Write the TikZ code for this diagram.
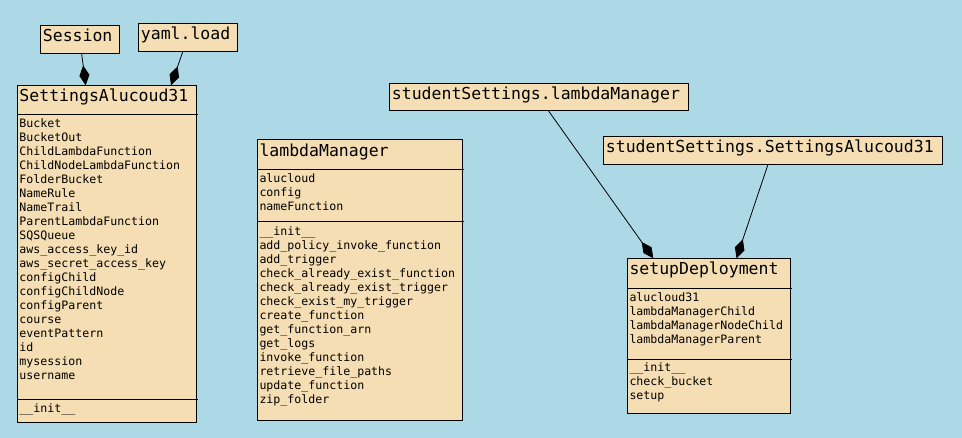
\documentclass[tikz,border=0pt]{standalone}
\usepackage{fontspec}
\setmonofont{DejaVu Sans Mono}
\usetikzlibrary{arrows.meta}
\definecolor{bg}{HTML}{ADD8E6}
\definecolor{wheat}{HTML}{F5DEB3}
\newcommand{\ttlfont}{\fontsize{16.5}{18}\selectfont\ttfamily}
\newcommand{\atfont}{\fontsize{11.6}{14}\selectfont\ttfamily}
\tikzset{
  box/.style={draw=black, fill=wheat, line width=1pt, anchor=north west, inner sep=0pt, outer sep=0pt},
  ttl/.style={anchor=base west, inner sep=0pt, font=\ttlfont},
  attr/.style={anchor=base west, inner sep=0pt, font=\atfont},
  sepline/.style={line width=1pt},
  comp/.style={-{Diamond[length=20pt,width=10pt]}, line width=0.8pt}
}
\begin{document}
\begin{tikzpicture}[x=1pt,y=-1pt]
\fill[bg] (0,0) rectangle (962,438);
\useasboundingbox (0,0) rectangle (962,438);

% small boxes
\node[box, minimum width=79pt, minimum height=28pt] (session) at (40.3,25.3) {};
\node[ttl] (sessiont) at (42.7,41.7) {Session};
\node[box, minimum width=99pt, minimum height=28.4pt] (yaml) at (138.3,23.3) {};
\node[ttl] (yamlt) at (140.7,40) {yaml.load};
\node[box, minimum width=299pt, minimum height=27.7pt] (sslm) at (389.3,83.3) {};
\node[ttl] (sslmt) at (391.7,100) {studentSettings.lambdaManager};
\node[box, minimum width=338.7pt, minimum height=27.6pt] (sssa) at (603.3,136.7) {};
\node[ttl] (sssat) at (605.7,152.3) {studentSettings.SettingsAlucoud31};

% SettingsAlucoud31
\node[box, minimum width=178.7pt, minimum height=337.7pt] (sa) at (17.3,85.3) {};
\node[ttl] (sat) at (19.3,102) {SettingsAlucoud31};
\draw[sepline] (17.3,114.3) -- (197.7,114.3);
\foreach \t [count=\i from 0] in {Bucket,BucketOut,ChildLambdaFunction,ChildNodeLambdaFunction,FolderBucket,NameRule,NameTrail,ParentLambdaFunction,SQSQueue,aws\_access\_key\_id,aws\_secret\_access\_key,configChild,configChildNode,configParent,course,eventPattern,id,mysession,username}
  \node[attr] (sa-a\i) at (19.3,127.3+14*\i) {\t};
\draw[sepline] (17.3,399.3) -- (197.7,399.3);
\node[attr] (sa-m0) at (19.3,412.3) {\_\_init\_\_};

% lambdaManager
\node[box, minimum width=205pt, minimum height=281.7pt] (lm) at (257.3,139.3) {};
\node[ttl] (lmt) at (259.3,156.7) {lambdaManager};
\draw[sepline] (257.3,169.3) -- (463.8,169.3);
\foreach \t [count=\i from 0] in {alucloud,config,nameFunction}
  \node[attr] (lm-a\i) at (259.3,182.3+14*\i) {\t};
\draw[sepline] (257.3,222) -- (463.8,222);
\foreach \t [count=\i from 0] in {\_\_init\_\_,add\_policy\_invoke\_function,add\_trigger,check\_already\_exist\_function,check\_already\_exist\_trigger,check\_exist\_my\_trigger,create\_function,get\_function\_arn,get\_logs,invoke\_function,retrieve\_file\_paths,update\_function,zip\_folder}
  \node[attr] (lm-m\i) at (259.3,235.3+14*\i) {\t};

% setupDeployment
\node[box, minimum width=163pt, minimum height=155.7pt] (sd) at (627.3,258.3) {};
\node[ttl] (sdt) at (629.3,275) {setupDeployment};
\draw[sepline] (627.3,288.3) -- (791.8,288.3);
\foreach \t [count=\i from 0] in {alucloud31,lambdaManagerChild,lambdaManagerNodeChild,lambdaManagerParent}
  \node[attr] (sd-a\i) at (629.3,301.3+14*\i) {\t};
\draw[sepline] (627.3,359.3) -- (791.8,359.3);
\foreach \t [count=\i from 0] in {\_\_init\_\_,check\_bucket,setup}
  \node[attr] (sd-m\i) at (629.3,371.7+14*\i) {\t};

% connectors
\coordinate (t1) at (85.7,85.3);
\coordinate (t2) at (171,85.3);
\coordinate (t3) at (653.3,258.3);
\coordinate (t4) at (736.5,258.3);
\draw[comp] (session) -- (t1);
\draw[comp] (yaml) -- (t2);
\draw[comp] (sslm) -- (t3);
\draw[comp] (sssa) -- (t4);
\end{tikzpicture}
\end{document}
